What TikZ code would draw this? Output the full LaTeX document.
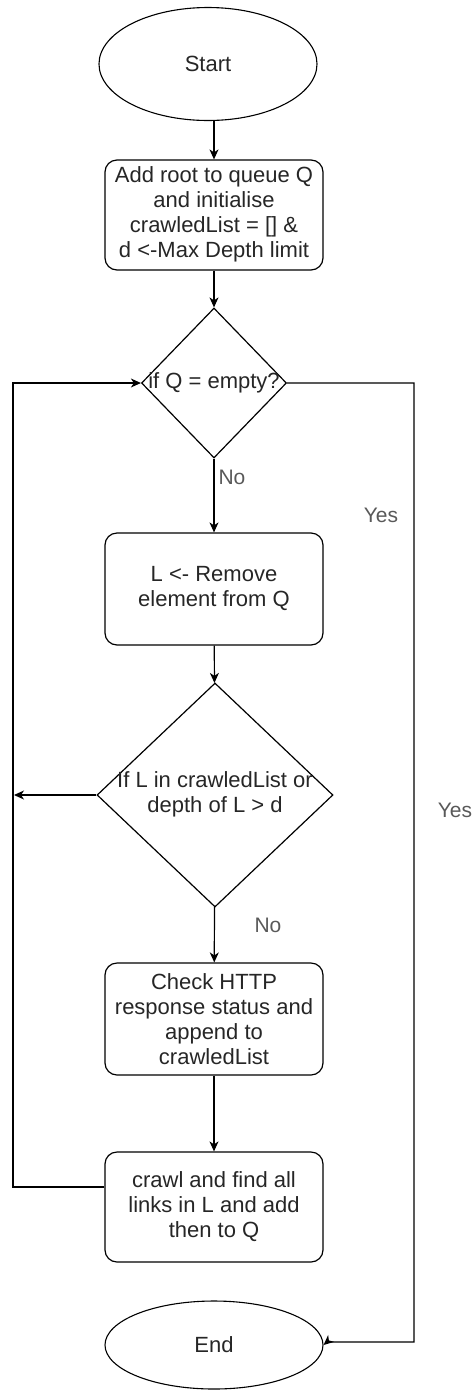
\documentclass[tikz,border=0pt]{standalone}
\usepackage{fontspec}
\setmainfont{Liberation Sans}
\usetikzlibrary{shapes.geometric,arrows.meta,positioning}
\tikzset{
  every node/.style={font=\fontsize{22}{25}\selectfont, text=black!85},
  process/.style={draw=black, line width=1.2pt, rounded corners=12pt, align=center,
    minimum width=218pt, minimum height=110pt, inner sep=2pt},
  terminal/.style={draw=black, line width=1.1pt, ellipse, minimum width=218pt, inner sep=0pt},
  decision/.style={draw=black, line width=1.2pt, diamond, inner sep=0pt, align=center},
  flow/.style={line width=1.2pt, -{Stealth[length=10pt,width=9pt,inset=3pt]}},
  lbl/.style={text=black!65, font=\fontsize{21}{24}\selectfont}
}
\begin{document}
\begin{tikzpicture}[x=1pt,y=-1pt]
\useasboundingbox (0,0) rectangle (472,1390);

% flowchart blocks
\node[terminal, minimum height=113pt] (start) at (208,64) {Start};
\node[process] (init) at (214,215) {\raisebox{-4pt}{\begin{tabular}{@{}c@{}}Add root to queue Q\\and initialise\\crawledList = [] \&\\d <-Max Depth limit\end{tabular}}};
\node[decision, minimum width=145pt, minimum height=150pt] (empty) at (214,383)
  {\makebox[0pt]{if Q = empty?}};
\node[process, minimum height=112pt] (remove) at (214,589) {L <- Remove\\element from Q};
\node[decision, minimum width=236pt, minimum height=224pt] (seen) at (215,795)
  {\makebox[0pt]{\begin{tabular}{@{}c@{}}If L in crawledList or\\depth of L > d\end{tabular}}};
\node[process, minimum height=112pt] (check) at (214,1019) {Check HTTP\\response status and\\append to\\crawledList};
\node[process] (crawl) at (214,1207) {crawl and find all\\links in L and add\\then to Q};
\node[terminal, minimum height=88pt] (end) at (214,1345) {End};

% routing points
\coordinate (loopbot) at (13,1187);
\coordinate (looptop) at (13,383);
\coordinate (skip) at (14,795);
\coordinate (outtop) at (414,383);
\coordinate (outbot) at (414,1342);
\coordinate (outend) at (327,1342);

% main flow
\draw[flow] (start.south -| init.north) -- (init.north);
\draw[flow] (init) -- (empty);
\draw[flow] (empty) -- (remove);
\draw[flow] (remove) -- (seen);
\draw[flow] (seen) -- (check);
\draw[flow] (check) -- (crawl);

% loop back to the queue test
\draw[flow] ([yshift=20pt]crawl.west) -- (loopbot) -- (looptop) -- (empty.west);
\draw[flow] (seen.west) -- (skip);

% exit when the queue is empty
\draw[flow] (empty.east) -- (outtop) -- (outbot) -- (outend) -- (end.east);

% branch labels
\node[lbl] (no1) at (232,477) {No};
\node[lbl] (yes1) at (381,515) {Yes};
\node[lbl] (no2) at (268,925) {No};
\node[lbl] (yes2) at (455,810) {Yes};
\end{tikzpicture}
\end{document}
